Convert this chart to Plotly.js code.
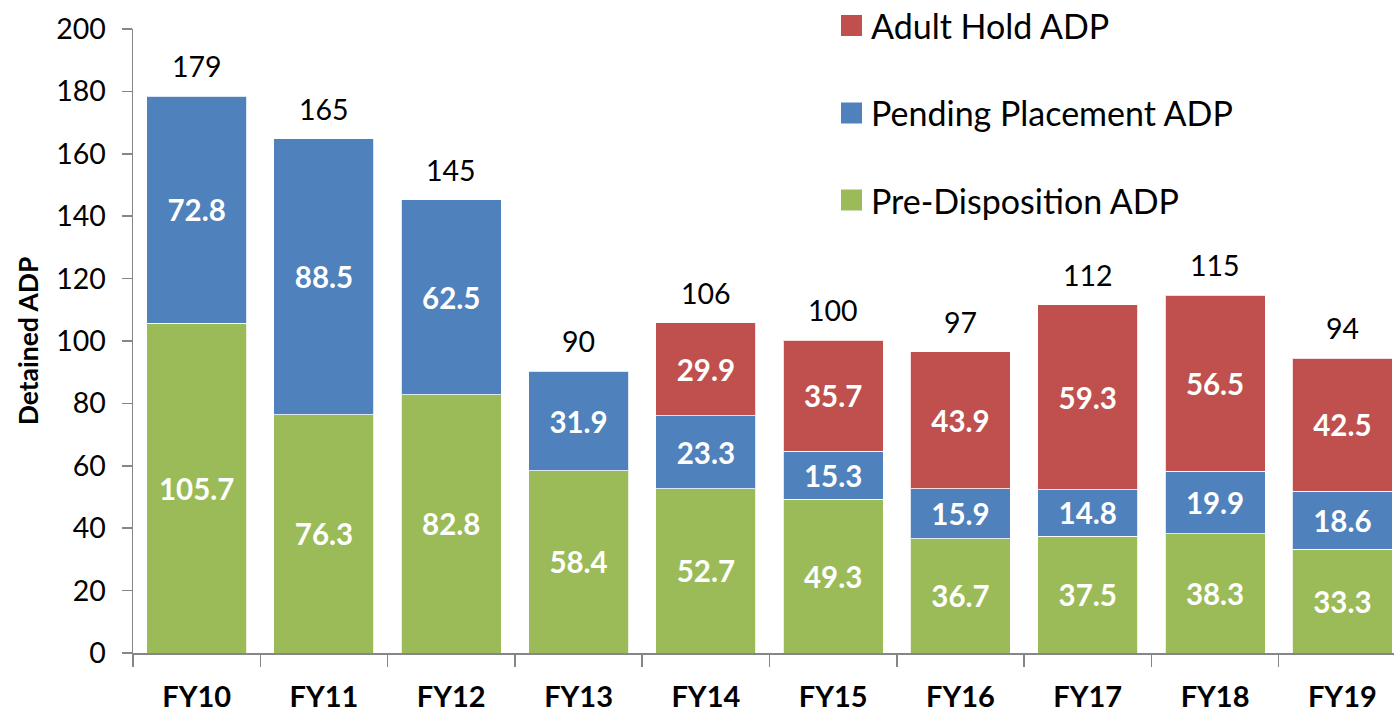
<!DOCTYPE html>
<html><head><meta charset="utf-8">
<script src="https://cdn.plot.ly/plotly-3.0.1.min.js"></script>
<style>html,body{margin:0;padding:0;background:#fff;overflow:hidden}</style>
</head>
<body><div id="chart" style="width:1394px;height:715px"></div>
<script>
const categories = ['FY10','FY11','FY12','FY13','FY14','FY15','FY16','FY17','FY18','FY19'];
const preDisposition = [105.7, 76.3, 82.8, 58.4, 52.7, 49.3, 36.7, 37.5, 38.3, 33.3];
const pendingPlacement = [72.8, 88.5, 62.5, 31.9, 23.3, 15.3, 15.9, 14.8, 19.9, 18.6];
const adultHold = [null, null, null, null, 29.9, 35.7, 43.9, 59.3, 56.5, 42.5];
const totalLabels = ['179','165','145','90','106','100','97','112','115','94'];
const seriesNames = ['Pre-Disposition ADP', 'Pending Placement ADP', 'Adult Hold ADP'];
const seriesColors = ['#9BBB59', '#4F81BD', '#C0504D'];
const yTicks = [0,20,40,60,80,100,120,140,160,180,200];

const FONT = 'Lato, "Open Sans", sans-serif';
const seriesValues = [preDisposition, pendingPlacement, adultHold];

const traces = seriesValues.map((vals, i) => ({
  type: 'bar',
  name: seriesNames[i],
  x: categories,
  y: vals,
  marker: {color: seriesColors[i], line: {color: 'rgba(255,255,255,0.8)', width: 1}},
  texttemplate: '%{y:.1f}',
  textposition: 'inside',
  insidetextanchor: 'middle',
  constraintext: 'none',
  textfont: {family: FONT, size: 29.5, color: '#ffffff', weight: 'bold'},
  hoverinfo: 'x+y+name',
  showlegend: false
}));

// plot-area pixel helpers for the hand-built legend
const L = 133, R = 1394, T = 29, B = 653;
const px = x => (x - L) / (R - L);
const py = y => (B - y) / (B - T);

const annotations = categories.map((c, i) => ({
  x: c,
  y: seriesValues.reduce((s, v) => s + (v[i] || 0), 0),
  xref: 'x', yref: 'y',
  text: totalLabels[i],
  showarrow: false,
  yanchor: 'bottom',
  yshift: 11,
  font: {family: FONT, size: 28.5, color: '#000000'}
}));

const shapes = [];
const legendOrder = [2, 1, 0];
const rowCenters = [25.5, 113, 200];
legendOrder.forEach((si, r) => {
  const cy = rowCenters[r];
  shapes.push({
    type: 'rect', xref: 'paper', yref: 'paper',
    x0: px(841), x1: px(862), y0: py(cy + 10.5), y1: py(cy - 10.5),
    fillcolor: seriesColors[si], line: {width: 0}
  });
  annotations.push({
    xref: 'paper', yref: 'paper', x: px(869), y: py(cy),
    xanchor: 'left', yanchor: 'middle', showarrow: false,
    text: seriesNames[si],
    font: {family: FONT, size: 34, color: '#000000'}
  });
});

const layout = {
  width: 1394, height: 715,
  margin: {l: L, r: 0, t: T, b: 715 - B, pad: 0},
  paper_bgcolor: '#ffffff', plot_bgcolor: '#ffffff',
  barmode: 'stack',
  bargap: 0.214,
  showlegend: false,
  font: {family: FONT, color: '#000000'},
  xaxis: {
    type: 'category',
    range: [-0.5, -0.5 + (R - L) / 127.3],
    showline: true, linecolor: '#868686', linewidth: 1.5,
    ticks: 'outside', tickson: 'boundaries', ticklen: 12, tickcolor: '#868686', tickwidth: 1.5,
    ticklabelstandoff: 18,
    tickfont: {family: FONT, size: 29, color: '#000000', weight: 'bold'},
    showgrid: false, zeroline: false, fixedrange: true
  },
  yaxis: {
    range: [0, 200],
    tickvals: yTicks,
    ticktext: yTicks.map(String),
    showline: true, linecolor: '#868686', linewidth: 1.5,
    ticks: 'outside', ticklen: 10, tickcolor: '#868686', tickwidth: 1.5,
    ticklabelstandoff: 10,
    tickfont: {family: FONT, size: 28.5, color: '#000000'},
    title: {text: 'Detained ADP', font: {family: FONT, size: 26.5, color: '#000000', weight: 'bold'}, standoff: 10},
    showgrid: false, zeroline: false, fixedrange: true
  },
  annotations: annotations,
  shapes: shapes
};

Plotly.newPlot('chart', traces, layout, {displayModeBar: false, staticPlot: true});
</script>
</body></html>
